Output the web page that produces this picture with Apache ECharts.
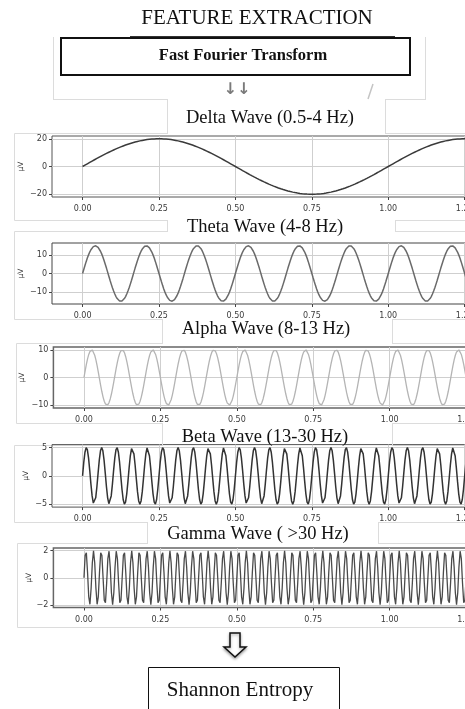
<!DOCTYPE html>
<html>
<head>
<meta charset="utf-8">
<script src="https://cdn.jsdelivr.net/npm/echarts@6/dist/echarts.min.js"></script>
<style>
  html, body { margin: 0; padding: 0; background: #fff; }
  #chart { width: 465px; height: 709px; }
</style>
</head>
<body>
<div id="chart"></div>
<script>
// EEG frequency bands drawn in the feature-extraction panels
const bandTitles = ['Delta Wave (0.5-4 Hz)', 'Theta Wave (4-8 Hz)', 'Alpha Wave (8-13 Hz)', 'Beta Wave (13-30 Hz)', 'Gamma Wave ( >30 Hz)'];
const bandFreqHz = [1, 6, 10, 20, 40];
const bandAmplitude = [20, 15, 10, 5, 2];
const sampleRateHz = 256;
const durationSec = 2;
const xTickValues = [0, 0.25, 0.5, 0.75, 1, 1.25, 1.5, 1.75, 2];
const yTickValues = [[-20, 0, 20], [-10, 0, 10], [-10, 0, 10], [-5, 0, 5], [-2, 0, 2]];
const yAxisName = 'μV';

// panel geometry and styling
const panels = [
  { top: 136, height: 61, left: 52, nameGap: 27, line: '#3a3a3a', lw: 1.5, frame: '#555', fw: 1,
    titleX: 270, titleY: 118, box: [167, 385, 99, 133], outer: [14, 133, 220] },
  { top: 243, height: 61, left: 52, nameGap: 27, line: '#6a6a6a', lw: 1.5, frame: '#444', fw: 1,
    titleX: 265, titleY: 227, box: [167, 395, 220, 231], outer: [14, 231, 319] },
  { top: 347, height: 61, left: 53.4, nameGap: 27, line: '#b4b4b4', lw: 1.3, frame: '#666', fw: 1.5,
    titleX: 266, titleY: 329, box: [162, 392, 319, 343], outer: [16, 343, 423] },
  { top: 444.6, height: 62.5, left: 52, nameGap: 22, line: '#333', lw: 1.5, frame: '#555', fw: 1,
    titleX: 265, titleY: 437, box: [162, 392, 423, 445], outer: [14, 445, 522] },
  { top: 548, height: 59.5, left: 53.4, nameGap: 20, line: '#4a4a4a', lw: 1.3, frame: '#666', fw: 1.5,
    titleX: 258, titleY: 534, box: [147, 378, 522, 543], outer: [17, 543, 627] }
];
const pxPerSecond = 305.7;
const xMin = -0.1, xMax = 2.1;

function sampleWave(freq, amp) {
  const pts = [];
  const n = sampleRateHz * durationSec;
  for (let k = 0; k < n; k++) {
    const t = k / sampleRateHz;
    pts.push([t, amp * Math.sin(2 * Math.PI * freq * t)]);
  }
  return pts;
}

const minus = v => String(v).replace('-', '\u2212');
const tickFont = { fontFamily: 'DejaVu Sans', fontSize: 8, color: '#3a3a3a' };

const grids = [], xAxes = [], yAxes = [], series = [], graphics = [];

// outline pieces around the transform block
const lightGrey = '#dcdcdc';
const seg = (x1, y1, x2, y2, c, w) => ({ type: 'line', shape: { x1, y1, x2, y2 }, style: { stroke: c || lightGrey, lineWidth: w || 1 }, silent: true });
graphics.push(seg(53.5, 37, 53.5, 99.5), seg(425.5, 37, 425.5, 99.5), seg(53, 99.5, 167, 99.5), seg(385, 99.5, 426, 99.5));

panels.forEach((p, i) => {
  const lim = bandAmplitude[i] * 1.1;
  grids.push({ left: p.left, top: p.top, width: pxPerSecond * (xMax - xMin), height: p.height,
    containLabel: false, outerBoundsMode: 'none',
    show: true, borderColor: p.frame, borderWidth: p.fw, backgroundColor: 'transparent' });
  xAxes.push({ type: 'value', gridIndex: i, min: xMin, max: xMax,
    axisLine: { show: false, onZero: false },
    axisTick: { show: true, length: 3, lineStyle: { color: '#444' }, customValues: xTickValues },
    axisLabel: Object.assign({ margin: 8, customValues: xTickValues, formatter: v => v.toFixed(2) }, tickFont),
    splitLine: { show: true, lineStyle: { color: '#cfcfcf', width: 1 } } });
  yAxes.push({ type: 'value', gridIndex: i, min: -lim, max: lim,
    name: yAxisName, nameLocation: 'middle', nameRotate: 90, nameGap: p.nameGap, nameMoveOverlap: false,
    nameTextStyle: { fontFamily: 'DejaVu Sans', fontSize: 7.5, color: '#333' },
    axisLine: { show: false, onZero: false },
    axisTick: { show: true, length: 3, lineStyle: { color: '#444' }, customValues: yTickValues[i] },
    axisLabel: Object.assign({ margin: 5, customValues: yTickValues[i], formatter: v => minus(v) }, tickFont),
    splitLine: { show: true, lineStyle: { color: '#cfcfcf', width: 1 } } });
  series.push({ type: 'line', xAxisIndex: i, yAxisIndex: i, data: sampleWave(bandFreqHz[i], bandAmplitude[i]),
    showSymbol: false, symbol: 'none', clip: true,
    lineStyle: { color: p.line, width: p.lw }, z: 3 });

  // figure frame, white title strip and the band title
  const [ox, oy, ob] = p.outer;
  graphics.push({ type: 'rect', shape: { x: ox + 0.5, y: oy + 0.5, width: 480, height: ob - oy }, style: { fill: 'none', stroke: lightGrey, lineWidth: 1 }, silent: true, z: -5 });
  const [bx1, bx2, by1, by2] = p.box;
  graphics.push({ type: 'rect', shape: { x: bx1, y: by1, width: bx2 - bx1, height: by2 - by1 + 1 }, style: { fill: '#fff' }, silent: true, z: -4 });
  graphics.push(seg(bx1 + 0.5, by1, bx1 + 0.5, by2 + 1), seg(bx2 + 0.5, by1, bx2 + 0.5, by2 + 1));
  graphics.push({ type: 'text', x: p.titleX, y: p.titleY, style: { text: bandTitles[i], fontFamily: 'Liberation Serif', fontSize: 18.5,
    fill: '#111', textAlign: 'center', textVerticalAlign: 'middle' }, silent: true, z: 10 });
});

// header, transform block and entropy block
graphics.push({ type: 'text', x: 257, y: 18, style: { text: 'FEATURE EXTRACTION', fontFamily: 'Liberation Serif', fontSize: 21,
  fill: '#111', textAlign: 'center', textVerticalAlign: 'middle' }, silent: true, z: 10 });
graphics.push(seg(130, 36.5, 395, 36.5, '#333', 1));
graphics.push({ type: 'rect', shape: { x: 61, y: 38, width: 349, height: 37 }, style: { fill: '#fff', stroke: '#111', lineWidth: 2 }, silent: true, z: 5 });
graphics.push({ type: 'text', x: 243, y: 56, style: { text: 'Fast Fourier Transform', fontFamily: 'Liberation Serif', fontWeight: 'bold', fontSize: 16.5,
  fill: '#111', textAlign: 'center', textVerticalAlign: 'middle' }, silent: true, z: 10 });
graphics.push({ type: 'text', x: 237, y: 90, style: { text: '↓↓', fontFamily: 'DejaVu Sans', fontSize: 16, fontWeight: 'bold',
  fill: '#7a7a7a', textAlign: 'center', textVerticalAlign: 'middle' }, silent: true, z: 10 });
graphics.push(seg(373, 84, 368, 99, '#c4c4c4', 1.5));

graphics.push({ type: 'polygon', shape: { points: [[230, 633], [240, 633], [240, 647], [246, 647], [235, 657], [224, 647], [230, 647]] },
  style: { fill: '#fff', stroke: '#111', lineWidth: 1.5, shadowBlur: 3, shadowColor: 'rgba(0,0,0,0.35)', shadowOffsetY: 1.5 }, silent: true, z: 10 });
graphics.push({ type: 'rect', shape: { x: 148.5, y: 667.5, width: 191, height: 60 }, style: { fill: '#fff', stroke: '#111', lineWidth: 1 }, silent: true, z: 5 });
graphics.push({ type: 'text', x: 240, y: 690, style: { text: 'Shannon Entropy', fontFamily: 'Liberation Serif', fontSize: 21,
  fill: '#111', textAlign: 'center', textVerticalAlign: 'middle' }, silent: true, z: 10 });

const chart = echarts.init(document.getElementById('chart'), null, { renderer: 'canvas' });
chart.setOption({
  animation: false,
  backgroundColor: '#fff',
  grid: grids,
  xAxis: xAxes,
  yAxis: yAxes,
  series: series,
  graphic: { elements: graphics }
});
</script>
</body>
</html>
